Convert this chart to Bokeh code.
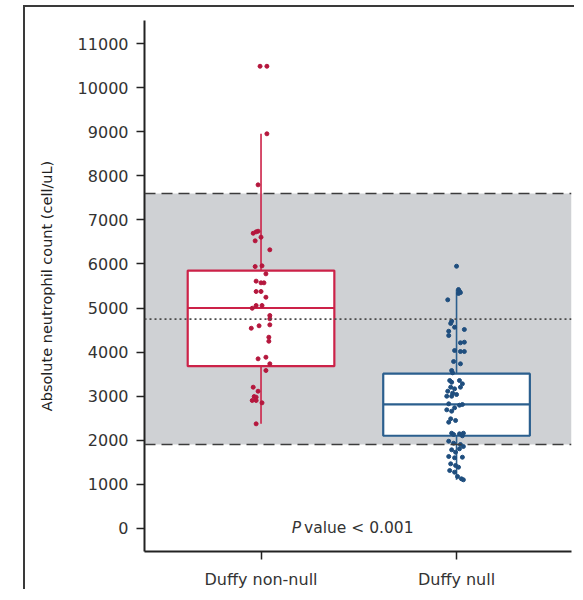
from bokeh.plotting import figure
from bokeh.models import FixedTicker, Span, BoxAnnotation, ColumnDataSource
from bokeh.core.properties import value
from bokeh.embed import file_html
from bokeh.resources import INLINE

# ---------------- data ----------------
categories = ["Duffy non-null", "Duffy null"]
y_ticks = list(range(0, 11001, 1000))

# Duffy non-null observations (cell/uL)
red_values = [10490, 10490, 8956, 7797, 6744, 6730, 6698, 6608, 6526, 6322,
              5958, 5942, 5776, 5610, 5572, 5572, 5375, 5375, 5245, 5057,
              5057, 4995, 4830, 4755, 4618, 4596, 4541, 4337, 4246, 3883,
              3846, 3733, 3581, 3202, 3111, 2990, 2975, 2900, 2900, 2847, 2370]
# horizontal jitter (1/200 of a category step)
red_jitter = [-1, 6, 6, -3, -3, -5, -8, 0, -6, 9,
              1, -6, 5, -5, 0, 3, -5, 0, 5, -5,
              1, -9, 9, 9, 9, -2, -10, 8, 8, 5,
              -3, 9, 5, -8, -3, -7, -5, -9, -5, 1, -5]

# Duffy null observations (cell/uL)
blue_values = [5949, 5420, 5380, 5350, 5330, 5186, 4700, 4650, 4564, 4512,
               4473, 4375, 4224, 4210, 4035, 4012, 4012, 3785, 3733, 3581,
               3528, 3354, 3315, 3354, 3279, 3202, 3165, 3202, 3111, 3066,
               3036, 2997, 2997, 2824, 2793, 2809, 2733, 2688, 2657, 2484,
               2446, 2407, 2157, 2128, 2143, 2157, 2098, 1975, 1930, 1900,
               1855, 1780, 1726, 1803, 1628, 1599, 1612, 1462, 1424, 1385,
               1310, 1272, 1174, 1122, 1099]
blue_jitter = [0, 2, 3, 4, 2, -9, -5, -6, -2, 8,
               -8, -8, 8, 4, -2, 4, 8, -3, 4, -5,
               -4, -7, -5, 3, 6, -6, -2, 4, -9, -4,
               0, -10, -5, -8, 3, 6, -2, -10, -5, -6,
               -1, -8, -5, -3, 3, 7, 6, -8, -3, 4,
               7, -5, -1, 3, -8, -2, 6, -6, -1, 2,
               -7, -2, 1, 5, 7]

# box statistics: lower whisker, Q1, median, Q3, upper whisker
box_low = [2370, 1099]
box_q1 = [3680, 2100]
box_median = [5000, 2810]
box_q3 = [5850, 3510]
box_high = [8956, 5420]

ref_low = 1900      # lower reference limit
ref_high = 7600     # upper reference limit
ref_mean = 4750     # dotted mean line
p_letter = "P"
p_text = "value < 0.001"
p_text_x = 1.22     # between the two groups
p_text_y = 0

# ---------------- styling ----------------
RED_LINE = "#cc2248"
RED_DOT = "#b5173d"
BLUE_LINE = "#2b5f8e"
BLUE_DOT = "#1f4e7e"
GREY_BAND = "#cfd1d4"
FONT = "DejaVu Sans"

pos = [1, 2]
p = figure(width=551, height=584, x_range=(0.404, 2.588), y_range=(-529, 11529),
           output_backend="svg", toolbar_location=None,
           min_border_left=119, min_border_right=5, min_border_top=13, min_border_bottom=10)
p.styles = {"border-left": "2px solid #3a3a3a", "border-top": "2px solid #3a3a3a",
            "margin-left": "23px", "margin-top": "5px"}
p.outline_line_color = None
p.grid.visible = False
p.background_fill_color = "white"
p.border_fill_color = "white"

# reference band
p.add_layout(BoxAnnotation(bottom=ref_low, top=ref_high, fill_color=GREY_BAND,
                           fill_alpha=1.0, line_color=None, level="underlay"))

# whiskers
src = ColumnDataSource(dict(x=pos, lo=box_low, q1=box_q1, med=box_median, q3=box_q3,
                            hi=box_high, color=[RED_LINE, BLUE_LINE],
                            x0=[x - 0.375 for x in pos], x1=[x + 0.375 for x in pos]))
p.segment(x0="x", x1="x", y0="q3", y1="hi", line_color="color", line_width=1.6, source=src)
p.segment(x0="x", x1="x", y0="lo", y1="q1", line_color="color", line_width=1.6, source=src)
# boxes
p.vbar(x="x", width=0.75, bottom="q1", top="q3", fill_color="white",
       line_color="color", line_width=2.2, source=src)
p.segment(x0="x0", x1="x1", y0="med", y1="med", line_color="color", line_width=2.2, source=src)

# reference lines
for v in (ref_low, ref_high):
    p.add_layout(Span(location=v, dimension="width", line_color="#3c3c3c",
                      line_width=1.6, line_dash="11 6"))
p.add_layout(Span(location=ref_mean, dimension="width", line_color="#4a4a4a",
                  line_width=1.8, line_dash="2 3"))

# jittered points
p.scatter([pos[0] + j * 0.005 for j in red_jitter], red_values, size=4,
          fill_color=RED_DOT, line_color=RED_DOT)
p.scatter([pos[1] + j * 0.005 for j in blue_jitter], blue_values, size=4,
          fill_color=BLUE_DOT, line_color=BLUE_DOT)

# P value annotation
p.text(x=[p_text_x], y=[p_text_y], text=[p_letter], text_font=value(FONT),
       text_font_style="italic", text_font_size="15.5px", text_align="right",
       text_baseline="middle", text_color="#333333", x_offset=-3)
p.text(x=[p_text_x], y=[p_text_y], text=[p_text], text_font=value(FONT),
       text_font_size="15.5px", text_align="left", text_baseline="middle",
       text_color="#333333", x_offset=0)

# axes
p.yaxis.ticker = FixedTicker(ticks=y_ticks)
p.xaxis.ticker = FixedTicker(ticks=pos)
p.xaxis.major_label_overrides = {pos[i]: categories[i] for i in range(2)}
p.yaxis.axis_label = "Absolute neutrophil count (cell/uL)"
for ax in (p.xaxis[0], p.yaxis[0]):
    ax.axis_line_width = 2
    ax.axis_line_color = "#222222"
    ax.major_tick_line_color = "#222222"
    ax.major_tick_line_width = 1.5
    ax.major_tick_in = 0
    ax.major_tick_out = 8
    ax.minor_tick_line_color = None
    ax.major_label_text_font = FONT
    ax.major_label_text_color = "#333333"
    ax.axis_label_text_font = FONT
    ax.axis_label_text_color = "#222222"
p.yaxis.major_label_text_font_size = "16px"
p.yaxis.major_label_standoff = 8
p.yaxis.axis_label_text_font_size = "14.5px"
p.yaxis.axis_label_text_font_style = "normal"
p.yaxis.axis_label_standoff = 20
p.xaxis.major_label_text_font_size = "16px"
p.xaxis.major_label_standoff = 10

open("out.html", "w").write(file_html(p, INLINE))
